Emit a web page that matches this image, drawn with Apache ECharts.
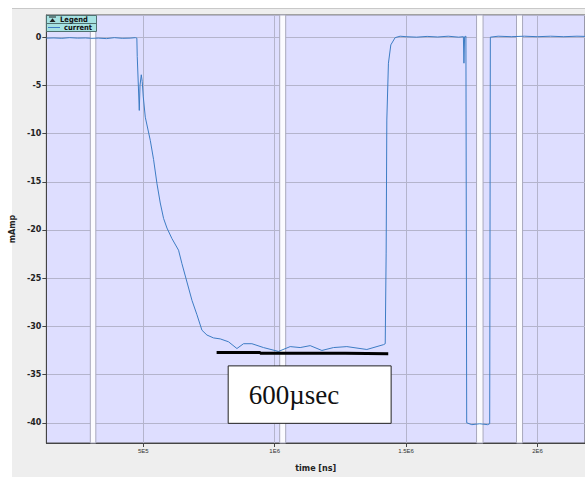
<!DOCTYPE html>
<html><head><meta charset="utf-8">
<script src="https://cdn.jsdelivr.net/npm/echarts@6/dist/echarts.min.js"></script>
<style>html,body{margin:0;padding:0;background:#fff}#c{width:585px;height:477px}</style>
</head><body><div id="c"></div>
<script>
// ---- data ----
const timeNs = [
  131200,160000,190000,220000,250000,280000,300000,330000,360000,390000,420000,450000,470000,475500,
  477000,484800,487500,492400,496000,500000,507600,526600,539200,552100,564600,577200,590100,609100,
  634200,647100,666200,685200,704200,723200,742200,767300,792800,824300,856300,881400,913300,957400,
  1014400,1058900,1096900,1135000,1179500,1223600,1274500,1350600,1413700,1420500,1424000,1426600,
  1432700,1441800,1458200,1477200,1500000,1540000,1580000,1620000,1660000,1700000,1717900,1720000,
  1722500,1727500,1730500,1750000,1780000,1810000,1818000,1820500,1850000,1900000,1950000,2000000,
  2050000,2100000,2150000,2180600
];
const currentMA = [
  -0.10,-0.08,-0.12,-0.05,-0.10,-0.08,-0.12,-0.10,-0.15,-0.05,-0.12,-0.10,-0.05,-0.10,
  -2.0,-7.6,-5.0,-3.9,-4.6,-6.2,-8.3,-10.7,-12.7,-15.2,-17.2,-18.8,-19.8,-20.9,
  -22.1,-23.5,-25.4,-27.3,-28.8,-30.4,-30.9,-31.2,-31.3,-31.6,-32.3,-31.8,-31.8,-32.2,
  -32.6,-32.1,-32.2,-32.0,-32.5,-32.2,-32.1,-32.4,-31.9,-31.8,-22.4,-8.6,
  -2.7,-0.8,-0.05,0.10,0.05,0.00,0.08,0.02,0.10,0.00,0.05,-2.7,
  0.05,0.10,-40.0,-40.2,-40.1,-40.2,-40.1,0.00,0.10,0.05,0.10,0.05,
  0.10,0.05,0.10,0.08
];
// hand-drawn 600 µs bar under the plateau
const barTime = [779000, 945000, 945000, 1268000, 1268000, 1432000];
const barLevel = [-32.70, -32.70, -32.80, -32.80, -32.85, -32.85];
// white marker bands (start, end) in ns
const bandStart = [298500, 1019000, 1768000, 1920000];
const bandEnd   = [319400, 1041800, 1792700, 1943000];
// annotation box corners
const boxTime = [823000, 1443000];
const boxLevel = [-34.1, -40.06];
const boxText = '600\u00b5sec';
// axes
const xMin = 131200, xMax = 2180600, yMin = -42.1, yMax = 2.3;
const xTickValues = [500000, 1000000, 1500000, 2000000];
const xTickLabels = ['5E5', '1E6', '1.5E6', '2E6'];
const seriesName = 'current';

const chart = echarts.init(document.getElementById('c'), null, {renderer: 'svg'});
const lineData = timeNs.map((t, i) => [t, currentMA[i]]);
const barData = barTime.map((t, i) => [t, barLevel[i]]);
const bands = bandStart.map((s, i) => [{xAxis: s}, {xAxis: bandEnd[i]}]);
const legFont = {fontFamily: 'DejaVu Sans Condensed', fontWeight: 'bold', fontSize: 7.5, fill: '#111', verticalAlign: 'middle'};

chart.setOption({
  backgroundColor: '#eeeeee',
  animation: false,
  grid: {left: 46, top: 15, right: 0, bottom: 34, show: true,
         backgroundColor: '#dedeff', borderColor: '#555', borderWidth: 1},
  xAxis: {
    type: 'value', min: xMin, max: xMax, splitNumber: 4,
    name: 'time [ns]', nameLocation: 'middle', nameGap: 21,
    nameTextStyle: {fontFamily: 'DejaVu Sans', fontWeight: 'bold', fontSize: 8, color: '#222'},
    axisLine: {show: true, onZero: false, lineStyle: {color: '#444', width: 1}},
    axisTick: {show: true, length: 4, lineStyle: {color: '#444'}},
    axisLabel: {showMinLabel: false, showMaxLabel: false, margin: 5,
      fontFamily: 'Liberation Sans', fontSize: 6, color: '#333',
      formatter: v => { const k = xTickValues.indexOf(v); return k >= 0 ? xTickLabels[k] : ''; }},
    splitLine: {show: true, lineStyle: {color: '#b4b4cc', width: 1}}
  },
  yAxis: {
    type: 'value', min: yMin, max: yMax, splitNumber: 9,
    name: 'mAmp', nameLocation: 'middle', nameGap: 19, nameRotate: 90,
    nameTextStyle: {fontFamily: 'DejaVu Sans', fontWeight: 'bold', fontSize: 8, color: '#222'},
    axisLine: {show: true, onZero: false, lineStyle: {color: '#444', width: 1}},
    axisTick: {show: true, length: 4, lineStyle: {color: '#444'}},
    axisLabel: {showMinLabel: false, showMaxLabel: false, margin: 5,
      fontFamily: 'DejaVu Sans', fontWeight: 'bold', fontSize: 8, color: '#222'},
    splitLine: {show: true, lineStyle: {color: '#b4b4cc', width: 1}}
  },
  series: [
    {type: 'line', name: 'bands', data: [], silent: true, z: 1,
     markArea: {silent: true, itemStyle: {color: '#fbfbff', borderColor: '#a8a8bc', borderWidth: 1},
                data: bands}},
    {type: 'line', name: seriesName, data: lineData, showSymbol: false, z: 3,
     lineStyle: {color: '#3d7cc4', width: 1}},
    {type: 'line', name: 'bar', data: barData, showSymbol: false, z: 4,
     lineStyle: {color: '#000', width: 3},
     markArea: {silent: true, itemStyle: {color: '#ffffff', borderColor: '#222', borderWidth: 1},
       label: {show: true, position: 'insideLeft', distance: 21, formatter: boxText,
               fontFamily: 'Liberation Serif', fontSize: 27, color: '#111'},
       data: [[{xAxis: boxTime[0], yAxis: boxLevel[0]}, {xAxis: boxTime[1], yAxis: boxLevel[1]}]]}}
  ],
  graphic: [
    {type: 'rect', shape: {x: 0, y: 0, width: 585, height: 8}, style: {fill: '#ffffff'}, silent: true},
    {type: 'rect', shape: {x: 0, y: 0, width: 12, height: 477}, style: {fill: '#ffffff'}, silent: true},
    {type: 'line', shape: {x1: 12, y1: 8.5, x2: 585, y2: 8.5}, style: {stroke: '#c8c8c8', lineWidth: 1}, silent: true},
    {type: 'rect', z: 100, shape: {x: 46.5, y: 15.5, width: 50, height: 16}, style: {fill: '#a6e2e2', stroke: '#4f7070', lineWidth: 1}},
    {type: 'line', z: 101, shape: {x1: 46.5, y1: 23.5, x2: 96.5, y2: 23.5}, style: {stroke: '#4f7070', lineWidth: 1}},
    {type: 'line', z: 101, shape: {x1: 49, y1: 17, x2: 56, y2: 17}, style: {stroke: '#222', lineWidth: 1}},
    {type: 'polygon', z: 101, shape: {points: [[49.5, 22], [55.5, 22], [52.5, 18.2]]}, style: {fill: '#222'}},
    {type: 'text', z: 101, x: 60, y: 19.6, style: Object.assign({text: 'Legend'}, legFont)},
    {type: 'line', z: 101, shape: {x1: 48, y1: 27.5, x2: 60, y2: 27.5}, style: {stroke: '#3d7cc4', lineWidth: 1}},
    {type: 'text', z: 101, x: 64, y: 27.6, style: Object.assign({text: seriesName}, legFont)}
  ]
});
</script>
</body></html>
